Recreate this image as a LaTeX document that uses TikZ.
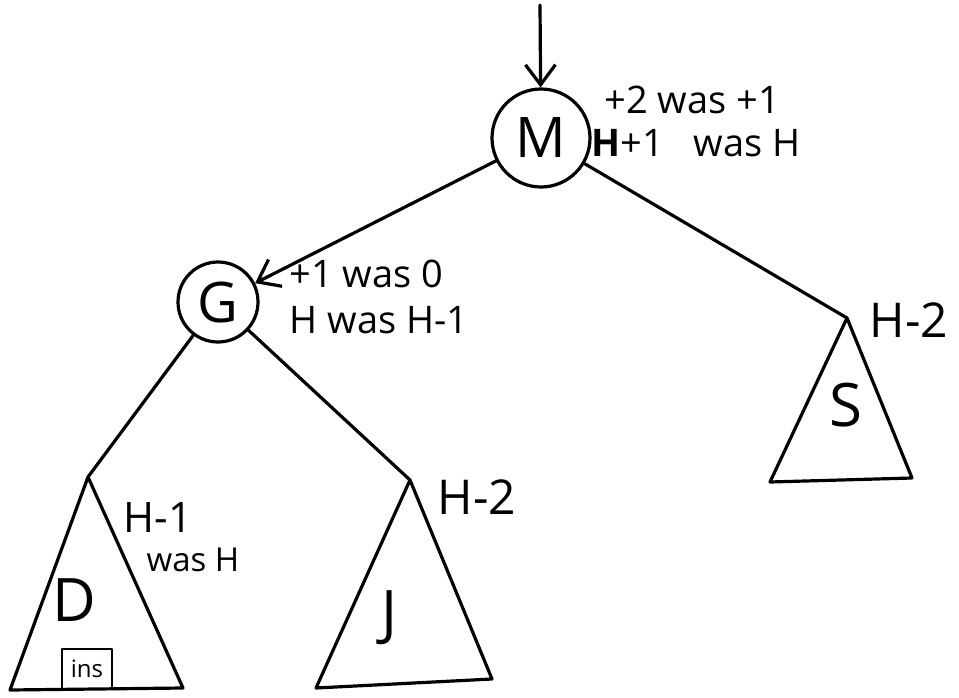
\documentclass[tikz,border=0pt]{standalone}
\usepackage{fontspec}
\setmainfont{Open Sans}
\usetikzlibrary{arrows.meta}
\begin{document}
\begin{tikzpicture}[x=1pt,y=-1pt,line width=3.2pt,line cap=round,line join=round,
  keynode/.style={circle,draw,inner sep=0pt,minimum size=#1,font=\fontsize{56}{58}\selectfont},
  treeletter/.style={font=\fontsize{60}{62}\selectfont,inner sep=0pt},
  note/.style={font=\fontsize{38}{40}\selectfont,inner sep=0pt,anchor=west},
  heightlabel/.style={font=\fontsize{48}{50}\selectfont,inner sep=0pt,anchor=west},
  insbox/.style={draw,line width=2.2pt,minimum width=50pt,minimum height=40pt,inner sep=0pt,font=\fontsize{24}{26}\selectfont},
  barb/.style={-{Straight Barb[length=20pt,width=30pt,line width=3.2pt]}}]
\useasboundingbox (0,0) rectangle (959,698);
% key nodes
\node[keynode=98pt] (M) at (541,138) {M};
\node[keynode=80pt] (G) at (218,302) {G};
\coordinate (top) at (540,5);
% annotations
\node[note] (m1) at (603,100) {+2\ was\ +1};
\node[note] (m2) at (590,143) {\textbf{H}+1\ \ \ was\ H};
\node[note] (g1) at (288,274) {+1 was 0};
\node[note] (g2) at (288,320) {H was H-1};
% subtrees
\coordinate (Stop) at (847,318);
\coordinate (Sl) at (770,482);
\coordinate (Sr) at (912,478);
\coordinate (Dtop) at (88,477);
\coordinate (Dl) at (10,690);
\coordinate (Dr) at (183,688);
\coordinate (Jtop) at (410,480);
\coordinate (Jl) at (316,688);
\coordinate (Jr) at (492,679);
\draw (Stop) -- (Sl) -- (Sr) -- cycle;
\draw (Dtop) -- (Dl) -- (Dr) -- cycle;
\draw (Jtop) -- (Jl) -- (Jr) -- cycle;
\node[treeletter] (S) at (846,405) {S};
\node[treeletter] (D) at (74,600) {D};
\node[treeletter] (J) at (390,618) {J};
\node[insbox] (ins) at (87,669) {ins};
% height labels
\node[heightlabel] (hs) at (868,320) {H-2};
\node[heightlabel] (hj) at (436,497) {H-2};
\node[heightlabel,font=\fontsize{42}{44}\selectfont] (hd) at (122,518) {H-1};
\node[note,font=\fontsize{33}{35}\selectfont] (hdw) at (145,560) {was H};
% connectors
\draw[barb] (top) -- (M);
\draw[barb] (M) -- (G);
\draw (M) -- (Stop);
\draw (G) -- (Dtop);
\draw (G) -- (Jtop);
\end{tikzpicture}
\end{document}
